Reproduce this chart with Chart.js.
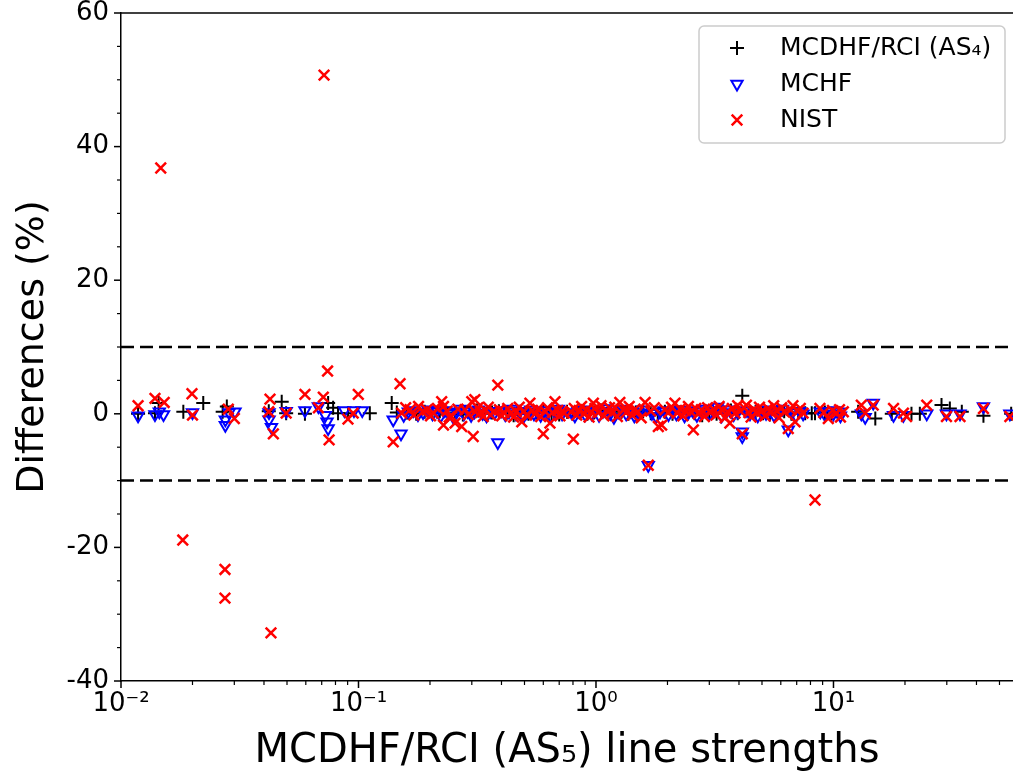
<!DOCTYPE html>
<html>
<head>
<meta charset="utf-8">
<script src="https://cdn.jsdelivr.net/npm/chart.js@4.4.0/dist/chart.umd.min.js"></script>
<style>
  html, body { margin: 0; padding: 0; background: #fff; }
  #wrap { width: 1013px; height: 782px; }
</style>
</head>
<body>
<div id="wrap"><canvas id="chart" width="1013" height="782"></canvas></div>
<script>
// MCDHF/RCI (AS4) - black plus
const mcdhfX = [
  0.0118, 0.0139, 0.0144, 0.0183, 0.0222, 0.0268, 0.0279, 0.0419, 0.0475, 0.0496,
  0.0595, 0.0745, 0.0782, 0.082, 0.0904, 0.1116, 0.138, 0.145,
  0.16, 0.175, 0.19, 0.205, 0.22, 0.237, 0.255, 0.275, 0.295, 0.315,
  0.34, 0.365, 0.39, 0.42, 0.45, 0.48, 0.52, 0.56, 0.6, 0.65,
  0.7, 0.755, 0.8, 0.86, 0.92, 0.98, 1.05, 1.12, 1.2, 1.28,
  1.37, 1.47, 1.58, 1.7, 1.82, 1.95, 2.1, 2.25, 2.42, 2.6,
  2.8, 3.0, 3.22, 3.45, 3.7, 3.95, 4.13, 4.4, 4.7, 5.05,
  5.4, 5.8, 6.2, 6.65, 7.1, 7.6, 8.1, 8.36, 9.2, 9.8, 10.5,
  12.7, 15.0, 17.6, 21.3, 23.1, 28.5, 30.9, 34.7, 42.8, 56.0
];
const mcdhfY = [
  0.0, 0.1, 1.6, 0.3, 1.6, 0.3, 1.1, 0.4, 1.8, 0.1,
  0.0, 1.6, 0.9, 0.1, 0.1, 0.1, 1.6, 0.2,
  0.2, 0.0, 0.3, 0.1, 0.4, 0.0, 0.2, -0.1, 0.3, 0.5,
  0.0, 0.2, 0.4, 0.1, -0.2, 0.3, 0.0, 0.2, 0.4, 0.1,
  -0.1, 0.3, 0.1, 0.4, 0.0, 0.2, 0.5, 0.1, -0.1, 0.3,
  0.0, 0.2, 0.4, 0.1, -0.1, 0.3, 0.0, 0.2, 0.4, 0.1,
  -0.2, 0.3, 0.0, 0.2, 0.5, 0.1, 2.7, 0.0, 0.3, 0.1,
  -0.1, 0.2, 0.4, 0.0, 0.2, 0.1, 0.1, 0.1, 0.2, 0.0, 0.1,
  0.3, -0.7, 0.0, 0.0, 0.0, 1.3, 0.8, 0.3, -0.3, 0.0
];

// MCHF - blue open down triangles
const mchfX = [
  0.0118, 0.0139, 0.0151, 0.0145, 0.0200, 0.0275, 0.0275, 0.0302, 0.0285, 0.042,
  0.042, 0.043, 0.0496, 0.0595, 0.0678, 0.0725, 0.0737, 0.0745, 0.0873, 0.0957,
  0.1037, 0.140, 0.151,
  0.155, 0.162, 0.17, 0.178, 0.187, 0.196, 0.205, 0.214, 0.222, 0.231,
  0.24, 0.25, 0.259, 0.268, 0.278, 0.288, 0.298, 0.308, 0.32, 0.333,
  0.346, 0.36, 0.375, 0.386, 0.4, 0.415, 0.43, 0.445, 0.46, 0.478,
  0.495, 0.512, 0.53, 0.548, 0.566, 0.585, 0.605, 0.625, 0.648, 0.67,
  0.695, 0.72, 0.79, 0.815, 0.84, 0.87, 0.9, 0.93, 0.96, 0.995,
  1.03, 1.07, 1.11, 1.15, 1.19, 1.24, 1.29, 1.34, 1.4, 1.45,
  1.51, 1.57, 1.66, 1.72, 1.79, 1.86, 1.94, 2.02, 2.1, 2.18,
  2.27, 2.36, 2.45, 2.55, 2.66, 2.77, 2.88, 3.0, 3.12, 3.25,
  3.38, 3.52, 3.66, 3.8, 3.95, 4.13, 4.13, 4.28, 4.45, 4.62,
  4.8, 5.0, 5.2, 5.4, 5.62, 5.85, 6.1, 6.45, 6.7, 6.95,
  7.2, 7.45, 8.8, 9.2, 9.55, 10.0, 10.3,
  10.6, 10.7, 13.1, 13.6, 14.7, 17.9, 19.7, 24.7, 29.9, 34.1, 42.8, 55.3
];
const mchfY = [
  -0.3, -0.1, -0.1, 0.3, 0.2, -1.7, -0.9, 0.3, 0.2, 0.2,
  -0.9, -2.0, 0.4, 0.5, 1.1, -0.2, -1.2, -2.2, 0.5, 0.5,
  0.5, -0.9, -3.0,
  -0.2, 0.3, 0.5, -0.1, 0.2, 0.6, 0.0, 0.4, -0.3, 0.5,
  0.1, -0.4, 0.3, 0.7, 0.0, 0.4, -0.2, 0.3, 0.6, 0.1,
  -0.3, 0.4, 0.2, -4.3, 0.5, -0.1, 0.3, 0.7, 0.0, 0.4,
  -0.4, 0.2, 0.6, 0.0, 0.3, -0.2, 0.5, 0.1, -0.4, 0.3,
  0.7, 0.0, 0.2, -0.3, 0.4, 0.6, -0.1, 0.3, 0.0, 0.5,
  -0.2, 0.4, 0.8, 0.1, -0.5, 0.3, 0.7, 0.0, 0.4, -0.3,
  0.2, 0.6, -7.7, 0.1, -0.4, 0.3, 0.5, -0.1, 0.4, 0.0,
  0.6, -0.3, 0.2, 0.5, -0.2, 0.3, 0.7, 0.0, 0.4, 1.0,
  -0.3, 0.2, 0.6, -0.1, 0.3, -2.7, -3.4, 0.5, 0.0, 0.4,
  -0.3, 0.6, 0.1, 0.5, -0.2, 0.3, 0.7, -2.4, 0.2, -0.3,
  0.4, 0.0, 0.3, -0.1, 0.4, 0.0, 0.5,
  0.3, -0.3, 0.0, -0.5, 1.6, -0.2, -0.2, 0.0, 0.0, 0.0, 1.1, 0.0
];

// NIST - red x
const nistX = [
  0.0118, 0.0139, 0.0152, 0.0147, 0.0182, 0.0199, 0.0200, 0.0274, 0.0274, 0.0283,
  0.0300, 0.0424, 0.0419, 0.0438, 0.0428, 0.0496, 0.0595, 0.0711, 0.0678, 0.0716,
  0.0741, 0.0752, 0.0903, 0.095, 0.0998, 0.1496, 0.140,
  0.152, 0.158, 0.165, 0.171, 0.179, 0.186, 0.194, 0.201, 0.207, 0.215,
  0.224, 0.228, 0.228, 0.236, 0.241, 0.247, 0.255, 0.262, 0.272, 0.281,
  0.29, 0.300, 0.304, 0.31, 0.318, 0.309, 0.326, 0.335, 0.343, 0.352,
  0.36, 0.372, 0.386, 0.392, 0.401, 0.41, 0.425, 0.438, 0.45, 0.462,
  0.475, 0.487, 0.498, 0.51, 0.527, 0.54, 0.555, 0.568, 0.585, 0.600,
  0.612, 0.625, 0.640, 0.656, 0.672, 0.69, 0.705, 0.72, 0.735, 0.785,
  0.803, 0.81, 0.83, 0.85, 0.87, 0.89, 0.91, 0.935, 0.955, 0.975,
  0.99, 1.02, 1.05, 1.08, 1.11, 1.14, 1.17, 1.2, 1.23, 1.26,
  1.3, 1.34, 1.38, 1.42, 1.46, 1.5, 1.55, 1.61, 1.66, 1.7,
  1.76, 1.83, 1.89, 1.95, 2.02, 2.08, 2.15, 2.2, 2.26, 2.32,
  2.38, 2.45, 2.51, 2.57, 2.63, 2.7, 2.78, 2.86, 2.95, 3.03,
  3.12, 3.2, 3.3, 3.4, 3.5, 3.58, 3.66, 3.75, 3.85, 3.95,
  4.05, 4.13, 4.2, 4.3, 4.4, 4.5, 4.62, 4.75, 4.88, 5.0,
  5.15, 5.3, 5.45, 5.6, 5.75, 5.9, 6.05, 6.2, 6.45, 6.6,
  6.75, 6.89, 7.05, 7.25, 7.45, 8.36, 8.77, 9.1, 9.51, 9.9,
  10.3, 10.6, 10.7, 11.0, 13.1, 13.6, 14.7, 17.9, 19.7, 20.3,
  24.7, 29.9, 34.1, 42.8, 55.3
];
const nistY = [
  1.2, 2.3, 1.7, 36.8, -18.9, 3.0, -0.2, -23.3, -27.6, 0.7,
  -0.7, 2.2, 0.3, -3.0, -32.8, 0.1, 2.9, 2.5, 0.9, 50.7,
  6.4, -3.9, -0.8, 0.1, 2.9, 4.5, -4.2,
  0.1, 0.9, 0.6, -0.2, 1.1, 0.3, 0.6, -0.3, 0.1, 0.8,
  1.8, 1.1, -1.7, 0.4, -0.5, -0.4, -1.4, 0.7, -1.9, 0.6,
  -0.1, 1.8, -3.4, 0.3, 0.9, 2.1, 0.2, -0.4, 0.5, 1.0,
  -0.2, 0.4, 4.3, 0.6, -0.3, 0.2, 0.8, 0.1, -0.5, 0.3,
  1.0, -1.2, 0.4, -0.2, 1.6, 0.5, 0.0, 0.7, -0.4, -3.0,
  0.3, 0.9, -1.4, 0.2, 1.8, 0.5, -0.3, 0.4, 0.1, 0.3,
  -3.8, 0.8, -0.2, 0.5, 1.1, 0.0, 0.6, -0.5, 0.3, 1.6,
  0.8, 0.2, 1.2, -0.3, 0.5, 0.9, 0.1, 1.0, -0.4, 1.7,
  0.6, 0.2, 1.1, -0.2, 0.7, 0.3, -0.6, 1.7, -7.7, 0.4,
  0.9, -1.9, -1.7, 0.6, 0.2, 1.0, 1.6, 0.1, 0.7, -0.3,
  0.5, 1.1, 0.3, -2.4, 0.8, 0.0, 0.6, -0.4, 0.9, 0.2,
  0.7, -0.2, 1.1, 0.5, -0.6, 0.3, -1.4, 0.8, 0.1, 1.2,
  0.4, -3.0, 0.9, 1.3, 0.2, -0.5, 0.7, 0.1, 1.0, 0.4,
  -0.3, 0.8, 0.2, 1.2, 0.5, -0.6, 0.9, 0.3, -2.2, 0.6,
  1.2, -1.2, 0.4, 0.8, 0.1, -12.9, 0.8, 0.2, -0.7, 0.5,
  0.1, 0.6, -0.5, 0.3, 1.3, 0.1, 1.3, 0.8, 0.1, -0.4,
  1.3, -0.4, -0.4, 0.8, -0.4
];

const legendLabels = ['MCDHF/RCI (AS\u2084)', 'MCHF', 'NIST'];
const xDecades = [0.01, 0.1, 1, 10];
const xTickLabels = ['10\u207B\u00B2', '10\u207B\u00B9', '10\u2070', '10\u00B9'];
const yMajorTicks = [-40, -20, 0, 20, 40, 60];
const yTickLabels = ['-40', '-20', '0', '20', '40', '60'];
const guideY = [10, -10];
const xRange = [0.01, 57];
const yRange = [-40, 60];

const toPoints = (xs, ys) => xs.map((x, i) => ({ x: x, y: ys[i] }));

const styles = [
  { pointStyle: 'cross', radius: 7, rotation: 0, color: '#000000', width: 2 },
  { pointStyle: 'triangle', radius: 6.5, rotation: 180, color: '#0000ff', width: 2 },
  { pointStyle: 'crossRot', radius: 7.5, rotation: 0, color: '#ff0000', width: 2.5 }
];

const FONT = 'DejaVu Sans';

const axisDecor = {
  id: 'axisDecor',
  afterDraw(chart) {
    const ctx = chart.ctx;
    const area = chart.chartArea;
    const xs = chart.scales.x;
    const ys = chart.scales.y;
    ctx.save();
    ctx.strokeStyle = '#000';
    // top spine
    ctx.lineWidth = 1.5;
    ctx.beginPath();
    ctx.moveTo(area.left, area.top);
    ctx.lineTo(area.right, area.top);
    ctx.stroke();
    // x tick marks
    xs.ticks.forEach(t => {
      const v = t.value;
      const e = Math.floor(Math.log10(v) + 1e-9);
      const m = v / Math.pow(10, e);
      const mr = Math.round(m);
      if (Math.abs(m - mr) > 1e-6) return;
      const px = xs.getPixelForValue(v);
      if (px < area.left - 0.5 || px > area.right + 0.5) return;
      const len = mr === 1 ? 7 : 4;
      ctx.lineWidth = mr === 1 ? 1.5 : 1.2;
      ctx.beginPath();
      ctx.moveTo(px, area.bottom);
      ctx.lineTo(px, area.bottom + len);
      ctx.stroke();
    });
    // y tick marks
    ys.ticks.forEach(t => {
      const v = t.value;
      const major = yMajorTicks.includes(v);
      const py = ys.getPixelForValue(v);
      ctx.lineWidth = major ? 1.5 : 1.2;
      ctx.beginPath();
      ctx.moveTo(area.left, py);
      ctx.lineTo(area.left - (major ? 7 : 4), py);
      ctx.stroke();
    });
    // legend
    const bx = 699, by = 26, bw = 306, bh = 117;
    ctx.fillStyle = 'rgba(255,255,255,0.85)';
    ctx.strokeStyle = '#cccccc';
    ctx.lineWidth = 1.5;
    ctx.beginPath();
    ctx.roundRect(bx, by, bw, bh, 5);
    ctx.fill();
    ctx.stroke();
    ctx.font = '25px "' + FONT + '"';
    ctx.textBaseline = 'middle';
    ctx.textAlign = 'left';
    legendLabels.forEach((label, i) => {
      const s = styles[i];
      const cy = 48 + i * 36;
      ctx.strokeStyle = s.color;
      ctx.fillStyle = 'rgba(0,0,0,0)';
      ctx.lineWidth = s.width;
      Chart.helpers.drawPoint(ctx, {
        pointStyle: s.pointStyle, radius: s.radius, rotation: s.rotation, borderWidth: s.width
      }, 737, cy);
      ctx.fillStyle = '#000';
      ctx.fillText(label, 780, cy);
    });
    ctx.restore();
  }
};

const scatterSet = (label, xs, ys, s, order) => ({
  type: 'scatter',
  label: label,
  data: toPoints(xs, ys),
  pointStyle: s.pointStyle,
  pointRadius: s.radius,
  pointRotation: s.rotation,
  pointBorderColor: s.color,
  pointBackgroundColor: 'rgba(0,0,0,0)',
  pointBorderWidth: s.width,
  borderColor: s.color,
  backgroundColor: 'rgba(0,0,0,0)',
  order: order
});

const guideSet = (yv) => ({
  type: 'line',
  label: 'guide' + yv,
  data: [{ x: xRange[0], y: yv }, { x: xRange[1], y: yv }],
  borderColor: '#000',
  borderWidth: 2.5,
  borderDash: [13, 6],
  pointRadius: 0,
  fill: false,
  order: 5
});

new Chart(document.getElementById('chart'), {
  data: {
    datasets: [
      scatterSet(legendLabels[0], mcdhfX, mcdhfY, styles[0], 3),
      scatterSet(legendLabels[1], mchfX, mchfY, styles[1], 2),
      scatterSet(legendLabels[2], nistX, nistY, styles[2], 1),
      guideSet(guideY[0]),
      guideSet(guideY[1])
    ]
  },
  options: {
    responsive: false,
    animation: false,
    devicePixelRatio: 1,
    events: [],
    layout: { padding: { top: 13, right: 0, left: 0, bottom: 0 }, autoPadding: false },
    plugins: { legend: { display: false }, tooltip: { enabled: false } },
    scales: {
      x: {
        type: 'logarithmic',
        position: 'bottom',
        min: xRange[0],
        max: xRange[1],
        grid: { display: true, drawOnChartArea: false, drawTicks: false },
        border: { display: true, color: '#000', width: 1.5 },
        ticks: {
          autoSkip: false,
          maxRotation: 0,
          padding: 8,
          color: '#000',
          font: { family: FONT, size: 26 },
          callback: (v) => {
            const i = xDecades.findIndex(d => Math.abs(v - d) / d < 1e-6);
            return i >= 0 ? xTickLabels[i] : '';
          }
        },
        title: {
          display: true,
          text: 'MCDHF/RCI (AS\u2085) line strengths',
          color: '#000',
          font: { family: FONT, size: 40 },
          padding: { top: 0, bottom: 6 }
        },
        afterFit: (s) => { s.height = 101; s.paddingLeft = 0; s.paddingRight = 0; }
      },
      y: {
        type: 'linear',
        min: yRange[0],
        max: yRange[1],
        grid: { display: true, drawOnChartArea: false, drawTicks: false },
        border: { display: true, color: '#000', width: 1.5 },
        ticks: {
          stepSize: 5,
          autoSkip: false,
          padding: 12,
          color: '#000',
          font: { family: FONT, size: 26 },
          callback: (v) => {
            const i = yMajorTicks.indexOf(v);
            return i >= 0 ? yTickLabels[i] : '';
          }
        },
        title: {
          display: true,
          text: 'Differences (%)',
          color: '#000',
          font: { family: FONT, size: 38 },
          padding: { top: 10, bottom: 0 }
        },
        afterFit: (s) => { s.width = 121; s.paddingTop = 0; s.paddingBottom = 0; }
      }
    }
  },
  plugins: [axisDecor]
});
</script>
</body>
</html>
